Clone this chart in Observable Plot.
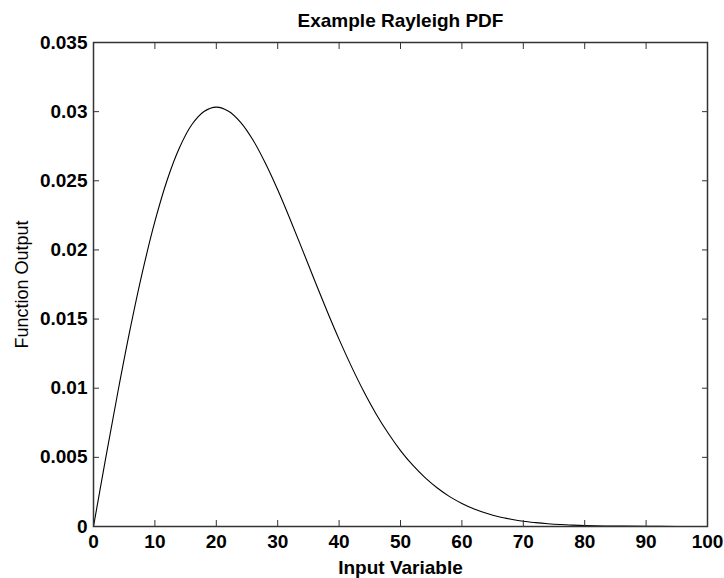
<!DOCTYPE html>
<html>
<head>
<meta charset="utf-8">
<script src="https://cdn.jsdelivr.net/npm/d3@7"></script>
<script src="https://cdn.jsdelivr.net/npm/@observablehq/plot@0.6"></script>
<style>
  html, body { margin: 0; padding: 0; background: #fff; }
  svg text { font-family: "Liberation Sans", Arial, sans-serif; }
</style>
</head>
<body>
<div id="chart"></div>
<script>
const title = "Example Rayleigh PDF";
const xLabel = "Input Variable";
const yLabel = "Function Output";
const xTicks = [0, 10, 20, 30, 40, 50, 60, 70, 80, 90, 100];
const yTicks = [0, 0.005, 0.01, 0.015, 0.02, 0.025, 0.03, 0.035];
const xs = [0, 2, 4, 6, 8, 10, 12, 14, 16, 18, 20, 22, 24, 26, 28, 30, 32, 34, 36, 38, 40,
  42, 44, 46, 48, 50, 52, 54, 56, 58, 60, 62, 64, 66, 68, 70, 72, 74, 76, 78, 80, 85, 90, 95, 100];
const ys = [0, 0.00498, 0.0098, 0.01434, 0.01846, 0.02206, 0.02506, 0.02739, 0.02905, 0.03001, 0.03033,
  0.03003, 0.02921, 0.02793, 0.02627, 0.02435, 0.02224, 0.02004, 0.01781, 0.01562, 0.01353,
  0.01158, 0.00978, 0.00816, 0.00674, 0.00549, 0.00443, 0.00353, 0.00278, 0.00216, 0.00167,
  0.00127, 0.00096, 0.00071, 0.00053, 0.00038, 0.00028, 0.0002, 0.00014, 0.0001, 0.00007,
  0.00003, 0.00001, 0.000004, 0.000001];

const data = xs.map((x, i) => ({x, y: ys[i]}));
const tickFont = {fontSize: 19, fontWeight: "bold", letterSpacing: "-1px"};

const chart = Plot.plot({
  width: 724,
  height: 578,
  marginLeft: 93,
  marginRight: 17,
  marginTop: 42,
  marginBottom: 52,
  style: {background: "#fff", color: "#000", overflow: "visible"},
  x: {domain: [0, 100]},
  y: {domain: [0, 0.035]},
  marks: [
    Plot.line(data, {x: "x", y: "y", stroke: "#000", strokeWidth: 1.1, curve: "catmull-rom"}),
    Plot.frame({stroke: "#333", strokeWidth: 1.5}),
    Plot.axisX(xTicks, {anchor: "bottom", tickSize: -6, stroke: "#333", tickPadding: 14, tickFormat: d => String(d), label: null, ...tickFont, fill: "#000"}),
    Plot.axisX(xTicks, {anchor: "top", tickSize: -6, stroke: "#333", tickFormat: () => "", label: null}),
    Plot.axisY(yTicks, {anchor: "left", tickSize: -6, stroke: "#333", tickPadding: 12, tickFormat: d => String(d), label: null, ...tickFont, fill: "#000"}),
    Plot.axisY(yTicks, {anchor: "right", tickSize: -6, stroke: "#333", tickFormat: () => "", label: null}),
    Plot.text([title], {frameAnchor: "top", lineAnchor: "middle", dy: -22, fontSize: 19, fontWeight: "bold", letterSpacing: "-1.7px", fill: "#000"}),
    Plot.text([xLabel], {frameAnchor: "bottom", lineAnchor: "middle", textAnchor: "middle", dy: 41, fontSize: 19, fontWeight: "bold", letterSpacing: "-1.9px", fill: "#000"}),
    Plot.text([yLabel], {frameAnchor: "left", lineAnchor: "middle", textAnchor: "middle", dx: -71, rotate: -90, fontSize: 18, fill: "#000"})
  ]
});
document.getElementById("chart").appendChild(chart);
</script>
</body>
</html>
